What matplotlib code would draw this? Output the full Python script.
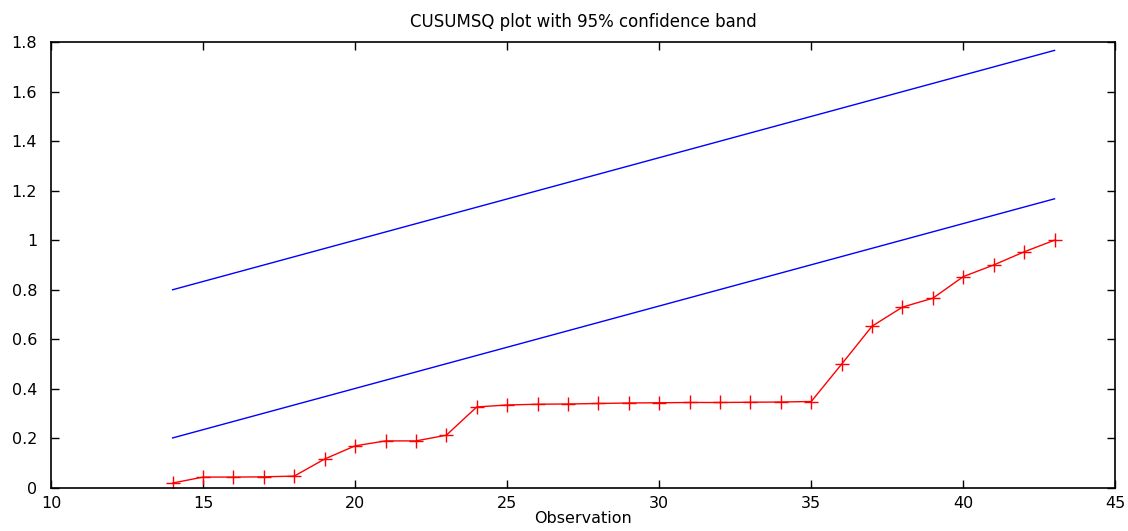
import matplotlib
matplotlib.use("Agg")
import matplotlib.pyplot as plt

# CUSUMSQ values
obs = list(range(14, 44))
cusumsq = [0.020, 0.044, 0.044, 0.045, 0.048, 0.117, 0.170, 0.190, 0.190, 0.213,
           0.327, 0.335, 0.338, 0.339, 0.341, 0.343, 0.344, 0.345, 0.345, 0.346,
           0.347, 0.349, 0.500, 0.653, 0.730, 0.766, 0.853, 0.900, 0.953, 1.000]

# confidence band end points
band_x = [14, 43]
band_upper = [0.800, 1.766]
band_lower = [0.202, 1.167]

xticks = [10, 15, 20, 25, 30, 35, 40, 45]
yticks = [0, 0.2, 0.4, 0.6, 0.8, 1, 1.2, 1.4, 1.6, 1.8]
ytick_labels = ["0", "0.2", "0.4", "0.6", "0.8", "1", "1.2", "1.4", "1.6", "1.8"]

fig = plt.figure(figsize=(11.28, 5.31), dpi=100)
ax = fig.add_axes([0.0452, 0.081, 0.9436, 0.840])

ax.plot(band_x, band_upper, color="blue", linewidth=1)
ax.plot(band_x, band_lower, color="blue", linewidth=1)
ax.plot(obs, cusumsq, color="red", linewidth=1, marker="+", markersize=10,
        markeredgewidth=1)

ax.set_xlim(10, 45)
ax.set_ylim(0, 1.8)
ax.set_xticks(xticks)
ax.set_yticks(yticks)
ax.set_yticklabels(ytick_labels)
ax.tick_params(direction="in", length=6, width=1, top=True, right=True,
               labelsize=11.5)
ax.tick_params(axis="y", pad=10)
ax.tick_params(axis="x", pad=6)
for s in ax.spines.values():
    s.set_linewidth(1.2)

# label sits right at the bottom edge, as in the original
ax.set_xlabel("Observation", fontsize=11.5, labelpad=0)
ax.set_title("CUSUMSQ plot with 95% confidence band", fontsize=12, pad=11)

fig.savefig("out.png", dpi=100)
